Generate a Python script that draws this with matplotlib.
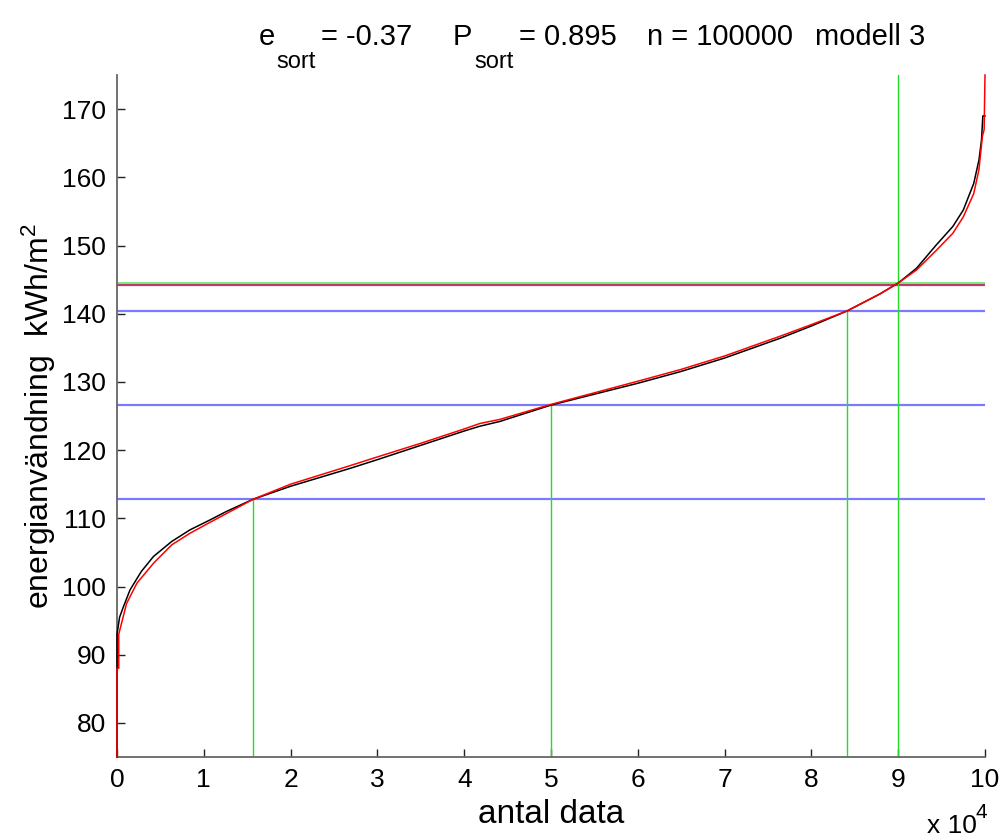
import matplotlib
matplotlib.use("Agg")
import matplotlib.pyplot as plt
import numpy as np

plt.rcParams['font.family'] = ['Liberation Sans', 'DejaVu Sans']
plt.rcParams['mathtext.fontset'] = 'custom'
plt.rcParams['mathtext.rm'] = 'Liberation Sans'
plt.rcParams['mathtext.it'] = 'Liberation Sans'

# sorted data curve (x in units of 1e4 observations)
black_x = [0, 0, 0.03, 0.073, 0.15, 0.28, 0.42, 0.63, 0.84, 1.07, 1.26, 1.57, 2.0, 2.68, 3.0, 3.5,
           4.0, 4.18, 4.41, 5.0, 5.5, 6.0, 6.49, 7.0, 7.64, 8.0, 8.41, 8.79, 9.0, 9.21, 9.44,
           9.63, 9.75, 9.87, 9.93, 9.96, 9.975, 10.0]
black_y = [75, 93, 95.5, 97.0, 99.5, 102.2, 104.4, 106.6, 108.3, 109.75, 111.0, 112.8, 114.7, 117.3,
           118.6, 120.7, 122.8, 123.5, 124.2, 126.6, 128.2, 129.8, 131.5, 133.5, 136.4, 138.2,
           140.4, 142.9, 144.5, 146.65, 150.1, 152.8, 155.2, 159.1, 162.5, 165.5, 169.0, 169.0]

red_x = [0, 0, 0.02, 0.02, 0.11, 0.23, 0.42, 0.63, 0.84, 1.07, 1.57, 2.0, 2.68, 3.0, 3.5, 4.0,
         4.18, 4.41, 5.0, 5.5, 6.0, 6.49, 7.0, 7.64, 8.0, 8.41, 8.79, 9.0, 9.21, 9.44, 9.63,
         9.75, 9.87, 9.93, 9.97, 9.99, 10.0]
red_y = [75, 88, 88, 93, 97.5, 100.5, 103.4, 106.1, 107.8, 109.4, 112.8, 115.0, 117.7, 119.0,
         121.0, 123.1, 123.9, 124.5, 126.7, 128.4, 130.1, 131.8, 133.8, 136.7, 138.4, 140.4,
         142.9, 144.5, 146.4, 149.3, 151.8, 154.2, 157.6, 161.1, 166.0, 167.0, 175.0]

# reference levels
blue_levels = [112.8, 126.6, 140.4]          # quantile levels
green_level = 144.5
purple_level = 144.2
# vertical markers (x in 1e4), with their top y
vline_x = [1.57, 5.0, 8.41]
vline_top = [112.8, 126.6, 140.4]
vline_full_x = 9.0

xticks = list(range(0, 11))
yticks = list(range(80, 171, 10))

# title pieces: (text, is_subscript)
title_pieces = [('e', False), ('sort', True), ('= -0.37', False), ('P', False), ('sort', True),
                ('= 0.895', False), ('n = 100000', False), ('modell 3', False)]

fig = plt.figure(figsize=(10.03, 8.36), dpi=100)
ax = fig.add_axes([117/1003, 79/836, 868/1003, 682/836])

scale = 1e4
ax.plot(np.array(black_x) * scale, black_y, color='black', lw=1.1, zorder=3, clip_on=False)
ax.plot(np.array(red_x) * scale, red_y, color='red', lw=1.1, zorder=4, clip_on=False)

for lv in blue_levels:
    ax.axhline(lv, color='#7a7aff', lw=1.6, zorder=2)
ax.axhline(green_level, color='#7ff07f', lw=2.2, zorder=2)
ax.axhline(purple_level, color='#c03a70', lw=1.6, zorder=2)

for xv, top in zip(vline_x, vline_top):
    ax.plot([xv * scale, xv * scale], [75, top], color='#22dd22', lw=1.0, zorder=2)
ax.plot([vline_full_x * scale] * 2, [75, 175], color='#22dd22', lw=1.0, zorder=2)

ax.set_xlim(0, 10 * scale)
ax.set_ylim(75, 175)
ax.set_xticks([t * scale for t in xticks])
ax.set_xticklabels([str(t) for t in xticks])
ax.set_yticks(yticks)
ax.set_yticklabels([str(t) for t in yticks])

for s in ['top', 'right']:
    ax.spines[s].set_visible(False)
for s in ['left', 'bottom']:
    ax.spines[s].set_color('#666666')
    ax.spines[s].set_linewidth(1.3)
ax.tick_params(direction='in', length=6, width=1.0, color='#222222', labelsize=19, pad=8)

ax.set_xlabel('antal data', fontsize=24, labelpad=5)
ax.set_ylabel('energianvändning  kWh/m$\\mathregular{^2}$', fontsize=23, labelpad=3)

# title built from pieces (MATLAB-style large, low subscripts)
renderer = fig.canvas.get_renderer()
W, H = fig.bbox.width, fig.bbox.height
main_fs, sub_fs = 21, 17
base_y = 45          # baseline pixel from top
sub_drop = 23
gaps = [1, 6, 40, 2, 6, 30, 22, 0]
texts = []
for (txt, sub), g in zip(title_pieces, gaps):
    t = fig.text(0, 0, txt, fontsize=sub_fs if sub else main_fs, ha='left', va='baseline')
    texts.append((t, sub, g))
widths = [t.get_window_extent(renderer).width for t, _, _ in texts]
total = sum(widths) + sum(g for _, _, g in texts[:-1])
x = 592 - total / 2
for (t, sub, g), w in zip(texts, widths):
    yb = base_y + (sub_drop if sub else 0)
    t.set_position((x / W, 1 - yb / H))
    x += w + g

fig.text(927/1003, 1 - 833/836, 'x 10', fontsize=19, ha='left', va='baseline')
fig.text(976/1003, 1 - 818/836, '4', fontsize=15, ha='left', va='baseline')

fig.savefig('out.png', dpi=100, facecolor='white')
